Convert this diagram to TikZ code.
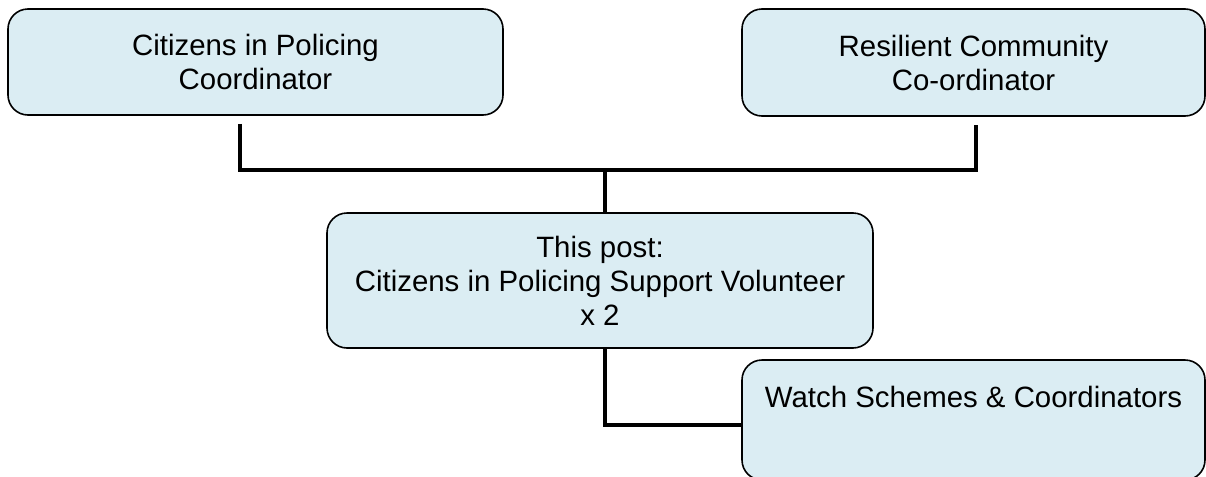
\documentclass[tikz,border=0pt]{standalone}
\usepackage{fontspec}
\setmainfont{Liberation Sans}
\definecolor{boxfill}{RGB}{219,237,243}
\tikzset{
  orgbox/.style={draw=black, line width=0.8pt, fill=boxfill, rounded corners=10pt,
    align=center, inner sep=0pt, font=\fontsize{14.7}{17}\selectfont},
  conn/.style={draw=black, line width=1.6pt},
  connshadow/.style={draw=black!30, line width=1.6pt, xshift=0.6pt, yshift=-0.6pt}
}
\begin{document}
\begin{tikzpicture}[x=0.5pt,y=-0.5pt]
\useasboundingbox (0,0) rectangle (1206,477);
% boxes
\node[orgbox, minimum width=247.5pt, minimum height=53pt] (b1) at (255.5,62)
  {Citizens in Policing\\Coordinator};
\node[orgbox, minimum width=231.5pt, minimum height=53.5pt] (b2) at (973.5,62.5)
  {Resilient Community\\Co-ordinator};
\node[orgbox, minimum width=273pt, minimum height=67.5pt] (b3) at (600,280.5)
  {This post:\\Citizens in Policing Support Volunteer\\x 2};
\node[orgbox, minimum width=231.5pt, minimum height=60pt] (b4) at (973.5,420)
  {Watch Schemes \& Coordinators\\[6pt]~};
% junctions
\coordinate (j1) at (240,170);
\coordinate (j2) at (976,170);
\coordinate (jm) at (605,170);
\coordinate (j4) at (605,425);
% shadows
\draw[connshadow] ([yshift=-4pt]b1.south -| j1) -- (j1) -- (j2) -- ([yshift=-4pt]b2.south -| j2);
\draw[connshadow] (jm) -- (jm |- b3.north);
\draw[connshadow] (b3.south -| jm) -- (j4) -- (j4 -| b4.west);
% connectors
\draw[conn] ([yshift=-4pt]b1.south -| j1) -- (j1) -- (j2) -- ([yshift=-4pt]b2.south -| j2);
\draw[conn] (jm) -- (jm |- b3.north);
\draw[conn] (b3.south -| jm) -- (j4) -- (j4 -| b4.west);
\end{tikzpicture}
\end{document}
